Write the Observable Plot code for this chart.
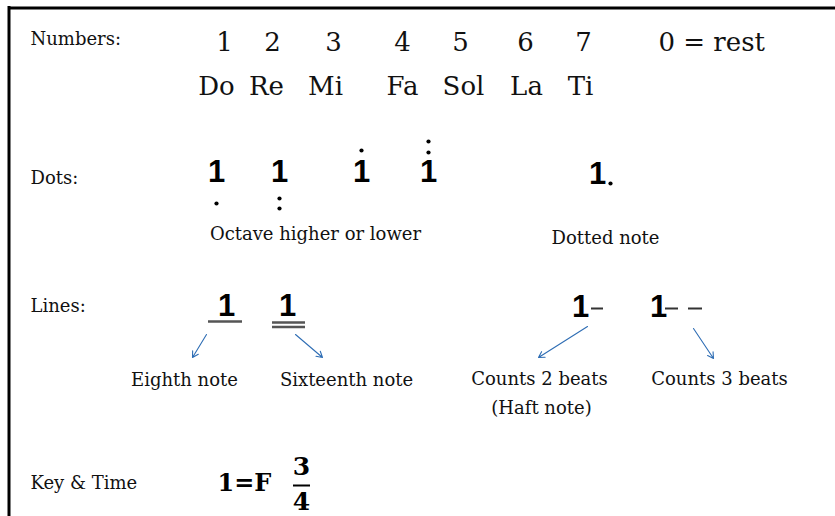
<!DOCTYPE html>
<html>
<head>
<meta charset="utf-8">
<script src="https://cdn.jsdelivr.net/npm/d3@7"></script>
<script src="https://cdn.jsdelivr.net/npm/@observablehq/plot@0.6"></script>
<style>
  html, body { margin: 0; padding: 0; background: #fff; }
  #chart svg { display: block; }
</style>
</head>
<body>
<div id="chart"></div>
<script>
// ---- content ----
const rowLabels = ["Numbers:", "Dots:", "Lines:", "Key & Time"];
const numbers = ["1", "2", "3", "4", "5", "6", "7"];
const syllables = ["Do", "Re", "Mi", "Fa", "Sol", "La", "Ti"];
const restLabel = ["0 = rest"];
const dotsCaptions = ["Octave higher or lower", "Dotted note"];
const lineCaptions = ["Eighth note", "Sixteenth note", "Counts 2 beats", "(Haft note)", "Counts 3 beats"];
const keyLabel = ["1=F"];
const timeSig = ["3", "4"];
// octave dots: [note index, dots count, side]
const octaveDots = [[0, 1, "below"], [1, 2, "below"], [2, 1, "above"], [3, 2, "above"]];

// ---- layout (pixel space) ----
const rowLabelY = [39, 178, 306, 483];
const numberX = [224, 272, 333, 402, 460, 525, 583];
const syllableX = [216, 266, 325, 402, 463, 526, 580];
const dotNoteX = [216, 279, 361, 428];
const dotBelowY = [[203], [198, 208]];
const dotAboveY = [[150], [141, 152]];
const captionPos = [[184, 380], [346, 380], [539, 379], [541, 408], [719, 379]];
const arrows = [
  {x1: 206, y1: 334, x2: 192, y2: 357},
  {x1: 295, y1: 334, x2: 322, y2: 357},
  {x1: 587, y1: 326, x2: 538, y2: 357},
  {x1: 693, y1: 328, x2: 713, y2: 358}
];

const serif = "DejaVu Serif";
const sans = "Liberation Sans";

const rowData = rowLabels.map((t, i) => ({t, x: 30, y: rowLabelY[i]}));
const numData = numbers.map((t, i) => ({t, x: numberX[i], y: 42}));
const sylData = syllables.map((t, i) => ({t, x: syllableX[i], y: 86}));

const boldOnes = dotNoteX.map(x => ({t: "1", x, y: 172}))
  .concat([{t: "1", x: 597, y: 174}])
  .concat([{t: "1", x: 226, y: 306}, {t: "1", x: 287, y: 306}, {t: "1", x: 580, y: 307}, {t: "1", x: 658, y: 307}]);

const dotPts = [];
octaveDots.forEach(([i, n, side]) => {
  const ys = side === "below" ? dotBelowY[n - 1] : dotAboveY[n - 1];
  ys.forEach(y => dotPts.push({x: dotNoteX[i], y}));
});
dotPts.push({x: 610, y: 183});

const underlines = [
  {x1: 208, x2: 242, y: 321},
  {x1: 272, x2: 305, y: 322},
  {x1: 272, x2: 305, y: 326.5}
];
const dashes = [
  {x1: 591, x2: 603, y: 308},
  {x1: 665, x2: 678, y: 308},
  {x1: 688, x2: 702, y: 308}
];

const capData = lineCaptions.map((t, i) => ({t, x: captionPos[i][0], y: captionPos[i][1]}));

const chart = Plot.plot({
  width: 835,
  height: 516,
  margin: 0,
  x: {domain: [0, 835], axis: null},
  y: {domain: [0, 516], reverse: true, axis: null},
  style: {background: "#fff"},
  marks: [
    // frame (top and left only)
    Plot.ruleY([7.5], {x1: 8, x2: 835, stroke: "#000", strokeWidth: 3}),
    Plot.ruleX([8.5], {y1: 6, y2: 516, stroke: "#000", strokeWidth: 3}),
    // row labels
    Plot.text(rowData, {x: "x", y: "y", text: "t", textAnchor: "start", fontFamily: serif, fontSize: 18, fill: "#111"}),
    // numbers & syllables
    Plot.text(numData, {x: "x", y: "y", text: "t", fontFamily: serif, fontSize: 26, fill: "#111"}),
    Plot.text(sylData, {x: "x", y: "y", text: "t", fontFamily: serif, fontSize: 26, fill: "#111"}),
    Plot.text(restLabel, {x: 658, y: 42, text: d => d, textAnchor: "start", fontFamily: serif, fontSize: 26, fill: "#111"}),
    // bold jianpu "1"s
    Plot.text(boldOnes, {x: "x", y: "y", text: "t", fontFamily: sans, fontWeight: "bold", fontSize: 31, fill: "#000"}),
    Plot.dot(dotPts, {x: "x", y: "y", r: 2.1, fill: "#000", stroke: null}),
    // underlines and dashes
    Plot.ruleY(underlines, {x1: "x1", x2: "x2", y: "y", stroke: "#555", strokeWidth: 2.5}),
    Plot.ruleY(dashes, {x1: "x1", x2: "x2", y: "y", stroke: "#333", strokeWidth: 2}),
    // captions
    Plot.text([dotsCaptions[0]], {x: 315, y: 234, text: d => d, fontFamily: serif, fontSize: 18, fill: "#111"}),
    Plot.text([dotsCaptions[1]], {x: 605, y: 238, text: d => d, fontFamily: serif, fontSize: 18, fill: "#111"}),
    Plot.text(capData, {x: "x", y: "y", text: "t", fontFamily: serif, fontSize: 18, fill: "#111"}),
    // arrows
    Plot.arrow(arrows, {x1: "x1", y1: "y1", x2: "x2", y2: "y2", stroke: "#2e6db4", strokeWidth: 1.1, headLength: 9, bend: 0}),
    // key & time
    Plot.text(keyLabel, {x: 217, y: 483, text: d => d, textAnchor: "start", fontFamily: serif, fontWeight: "bold", fontSize: 24, fill: "#000"}),
    Plot.text([timeSig[0]], {x: 301, y: 466, text: d => d, fontFamily: serif, fontWeight: "bold", fontSize: 25, fill: "#000"}),
    Plot.ruleY([485], {x1: 293, x2: 310, stroke: "#000", strokeWidth: 2}),
    Plot.text([timeSig[1]], {x: 301, y: 501, text: d => d, fontFamily: serif, fontWeight: "bold", fontSize: 25, fill: "#000"})
  ]
});
document.getElementById("chart").appendChild(chart);
</script>
</body>
</html>
